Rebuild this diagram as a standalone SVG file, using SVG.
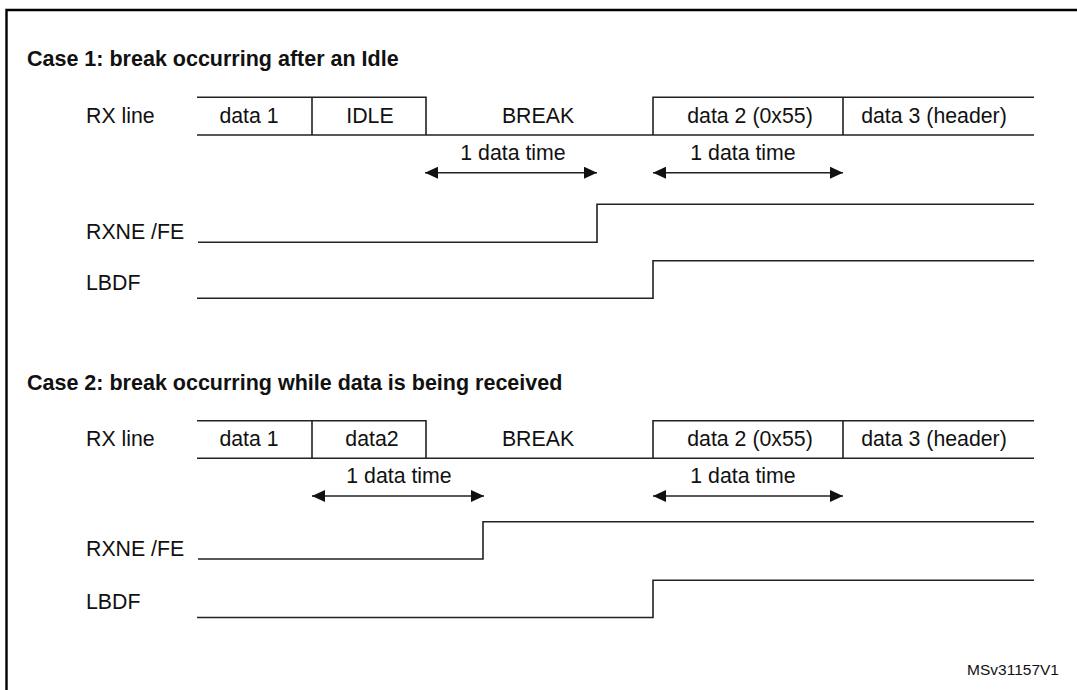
<svg xmlns="http://www.w3.org/2000/svg" width="1077" height="690" viewBox="0 0 1077 690">
<style>
.sig{fill:none;stroke:#222;stroke-width:1.6}
.frame{fill:none;stroke:#000;stroke-width:2.4}
.t{font-family:"Liberation Sans",Arial,sans-serif;font-size:21.3px;fill:#111}
.c{text-anchor:middle}
.h{font-family:"Liberation Sans",Arial,sans-serif;font-size:21.5px;font-weight:bold;fill:#111}
.ref{font-family:"Liberation Sans",Arial,sans-serif;font-size:15.5px;fill:#111;text-anchor:end}
.arr{fill:none;stroke:#222;stroke-width:1.6;marker-start:url(#ah);marker-end:url(#ah)}
</style>
<defs>
<marker id="ah" viewBox="0 0 13 12" refX="13" refY="6" markerWidth="13" markerHeight="12" markerUnits="userSpaceOnUse" orient="auto-start-reverse">
<path d="M0,0 L13,6 L0,12 Z" fill="#111"/>
</marker>
</defs>
<rect width="1077" height="690" fill="#fff"/>
<path class="frame" d="M6.5,690 V10 H1077"/>

<g id="case1">
<text class="h" x="27" y="66">Case 1: break occurring after an Idle</text>
<g id="c1-rx">
<text class="t" x="86" y="123">RX line</text>
<path class="sig" d="M197,135 H1034 M197,97.3 H426 V135 M312,97.3 V135 M653,135 V97.3 H1034 M843,97.3 V135"/>
<text class="t c" x="249" y="123">data 1</text>
<text class="t c" x="370" y="123">IDLE</text>
<text class="t c" x="538" y="123">BREAK</text>
<text class="t c" x="750" y="123">data 2 (0x55)</text>
<text class="t c" x="934" y="123">data 3 (header)</text>
</g>
<g id="c1-rxne">
<text class="t" x="86" y="239">RXNE /FE</text>
<path class="sig" d="M198,242.3 H597 V204.3 H1034"/>
</g>
<g id="c1-lbdf">
<text class="t" x="86" y="290">LBDF</text>
<path class="sig" d="M197,298.3 H653 V260.7 H1034"/>
</g>
</g>

<g id="case2">
<text class="h" x="27" y="390">Case 2: break occurring while data is being received</text>
<g id="c2-rx">
<text class="t" x="86" y="446">RX line</text>
<path class="sig" d="M197,458.3 H1034 M197,420.7 H426 V458.3 M312,420.7 V458.3 M653,458.3 V420.7 H1034 M843,420.7 V458.3"/>
<text class="t c" x="249" y="446">data 1</text>
<text class="t c" x="372" y="446">data2</text>
<text class="t c" x="538" y="446">BREAK</text>
<text class="t c" x="750" y="446">data 2 (0x55)</text>
<text class="t c" x="934" y="446">data 3 (header)</text>
</g>
<g id="c2-rxne">
<text class="t" x="86" y="556">RXNE /FE</text>
<path class="sig" d="M198,559 H483 V521.7 H1034"/>
</g>
<g id="c2-lbdf">
<text class="t" x="86" y="609">LBDF</text>
<path class="sig" d="M197,617.5 H653 V580.3 H1034"/>
</g>
</g>

<g id="connectors">
<path class="arr" d="M425,172.7 H597"/>
<path class="arr" d="M653,172.7 H843"/>
<path class="arr" d="M312,496 H484"/>
<path class="arr" d="M653,496 H843"/>
</g>
<g id="labels">
<text class="t c" x="513" y="160">1 data time</text>
<text class="t c" x="743" y="160">1 data time</text>
<text class="t c" x="399" y="483">1 data time</text>
<text class="t c" x="743" y="483">1 data time</text>
</g>
<text class="ref" x="1059" y="675">MSv31157V1</text>
</svg>
